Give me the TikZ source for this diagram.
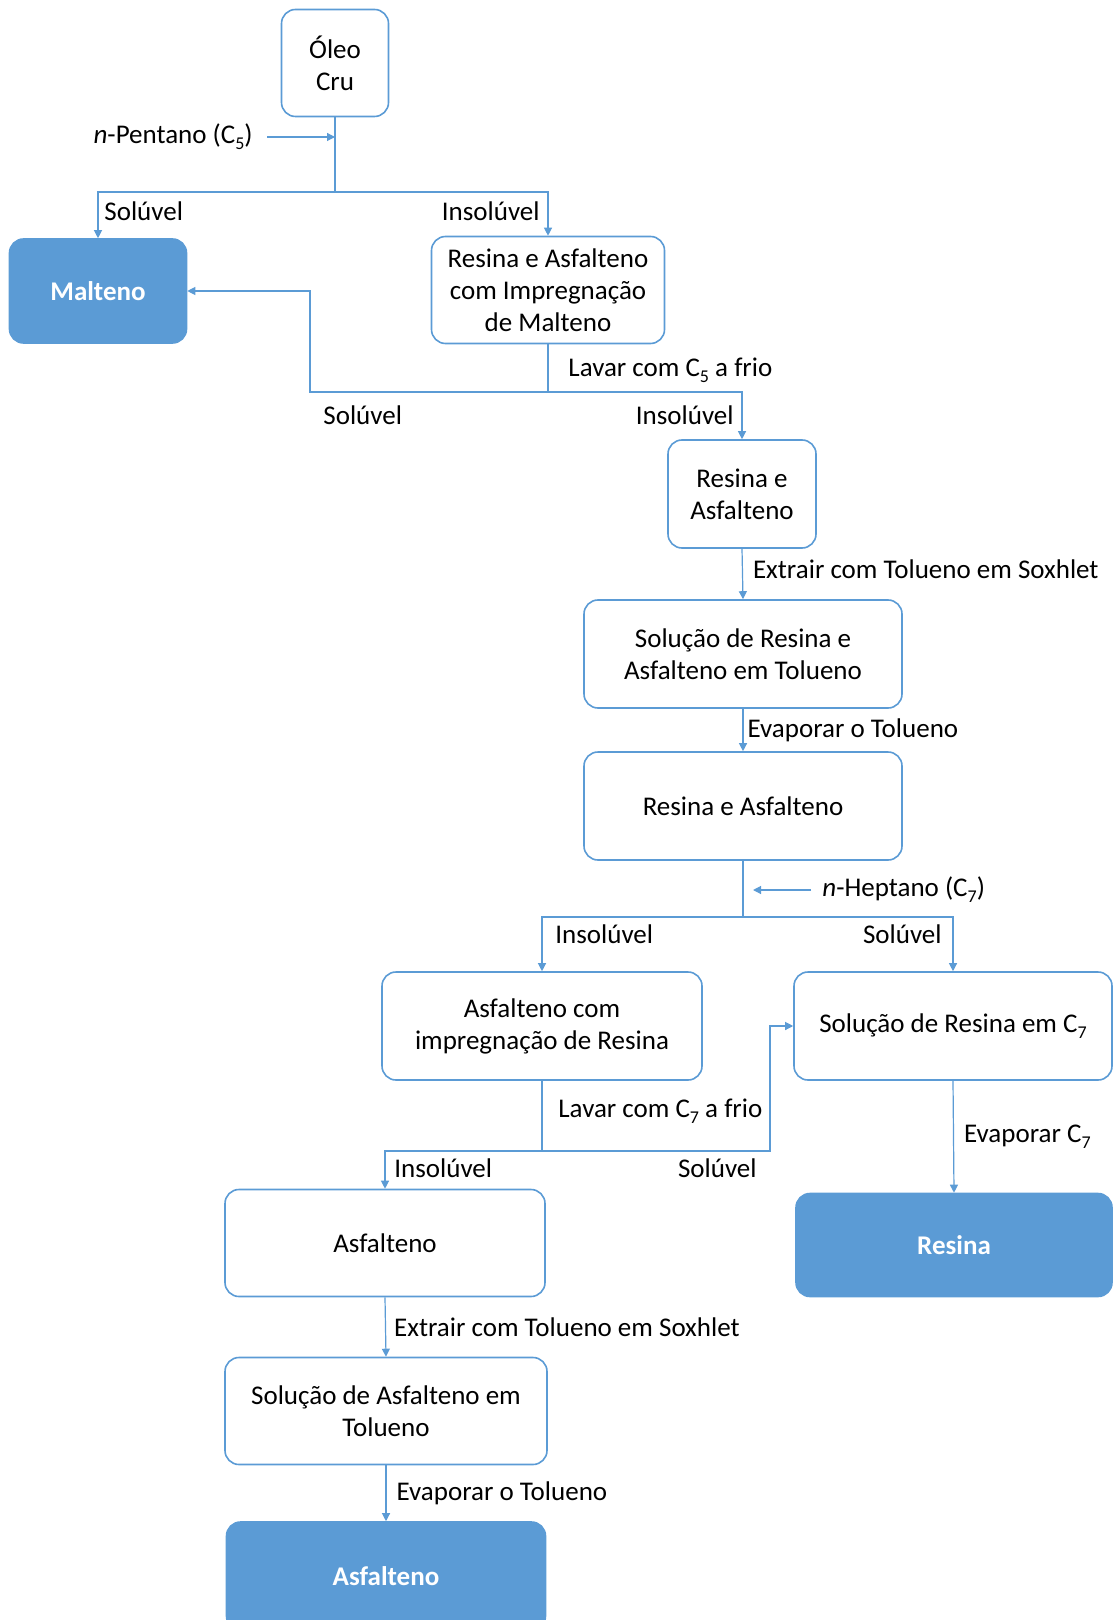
\documentclass[tikz,border=0pt]{standalone}
\usepackage{fontspec}
\setmainfont{Carlito}
\usetikzlibrary{arrows.meta,positioning}
\definecolor{boxblue}{HTML}{5B9BD5}
\newcommand{\subnum}[1]{\raisebox{-0.45ex}{\fontsize{9}{9}\selectfont #1}}
\tikzset{caixa/.style={draw=boxblue,line width=0.8pt,rounded corners=7pt,align=center,fill=white,inner sep=2pt}}
\tikzset{final/.style={draw=boxblue,fill=boxblue,line width=0.8pt,rounded corners=7pt,align=center,text=white,font=\fontsize{13.5}{16}\selectfont\bfseries}}
\tikzset{seta/.style={draw=boxblue,line width=0.6pt,-{Triangle[length=4pt,width=4pt]}}}
\tikzset{linha/.style={draw=boxblue,line width=0.6pt}}
\tikzset{rot/.style={inner sep=0pt}}

\begin{document}
\begin{tikzpicture}[x=0.5pt,y=-0.5pt,font=\fontsize{13.5}{16}\selectfont]
% \draw[help lines] (0,0) grid (1113,1620);
\useasboundingbox (0,0) rectangle (1113,1620);
\node (oleo) [caixa,minimum width=53.5pt,minimum height=53.5pt] at (335,63) {Óleo\\Cru};
\node (malt) [final,minimum width=88.5pt,minimum height=52pt] at (98,291) {Malteno};
\node (resimp) [caixa,minimum width=116.5pt,minimum height=53.5pt] at (548,290) {Resina e Asfalteno\\com Impregnação\\de Malteno};
\node (ra1) [caixa,minimum width=74pt,minimum height=54pt] at (742,494) {Resina e\\Asfalteno};
\node (solra) [caixa,minimum width=159pt,minimum height=54pt] at (743,654) {Solução de Resina e\\Asfalteno em Tolueno};
\node (ra2) [caixa,minimum width=159pt,minimum height=54pt] at (743,806) {Resina e Asfalteno};
\node (asfimp) [caixa,minimum width=160pt,minimum height=54pt] at (542,1026) {Asfalteno com\\impregnação de Resina};
\node (solres) [caixa,minimum width=159pt,minimum height=54pt] at (953,1026) {Solução de Resina em C\subnum{7}};
\node (resina) [final,minimum width=158pt,minimum height=51.5pt] at (954,1245) {Resina};
\node (asf1) [caixa,minimum width=160pt,minimum height=53.5pt] at (385,1243) {Asfalteno};
\node (solasf) [caixa,minimum width=161pt,minimum height=53.5pt] at (386,1411) {Solução de Asfalteno em\\Tolueno};
\node (asf2) [final,minimum width=159.5pt,minimum height=54pt] at (386,1576) {Asfalteno};
%
\coordinate (j1) at (335,192);
\coordinate (j2) at (548,392);
\coordinate (j2b) at (310,392);
\coordinate (j3) at (743,917);
\coordinate (j4) at (542,1151);
\coordinate (j4b) at (770,1151);
\coordinate (c5a) at (267,137);
\coordinate (c5b) at (335,137);
\coordinate (c7a) at (811,890);
\coordinate (c7b) at (753,890);
%
\node (pent) [rot,anchor=east] at (253,137) {\textit{n}-Pentano (C\subnum{5})};
\node (hept) [rot,anchor=west] at (822,890) {\textit{n}-Heptano (C\subnum{7})};
\draw[seta] (c5a) -- (c5b);
\draw[seta] (c7a) -- (c7b);
%
\draw[linha] (oleo.south) -- (j1);
\draw[seta] (j1) -| (malt.north);
\draw[seta] (j1) -| (resimp.north);
\node (s1) [rot,anchor=west] at (104,211) {Solúvel};
\node (i1) [rot,anchor=east] at (540,211) {Insolúvel};
%
\draw[linha] (resimp.south) -- (j2);
\draw[seta] (j2) -| (ra1.north);
\draw[seta] (j2) -- (j2b) |- (malt.east);
\node (l1) [rot,anchor=west] at (568,370) {Lavar com C\subnum{5} a frio};
\node (s2) [rot,anchor=west] at (323,415) {Solúvel};
\node (i2) [rot,anchor=east] at (734,415) {Insolúvel};
%
\draw[seta] (ra1.south) -- (solra.north) node[rot,pos=0.4,anchor=west,xshift=5pt] {Extrair com Tolueno em Soxhlet};
\draw[seta] (solra.south) -- (ra2.north) node[rot,pos=0.5,anchor=west,xshift=2pt] {Evaporar o Tolueno};
%
\draw[linha] (ra2.south) -- (j3);
\draw[seta] (j3) -| (asfimp.north);
\draw[seta] (j3) -| (solres.north);
\node (i3) [rot,anchor=west] at (555,934) {Insolúvel};
\node (s3) [rot,anchor=east] at (942,934) {Solúvel};
%
\draw[linha] (asfimp.south) -- (j4);
\draw[seta] (j4) -| (asf1.north);
\draw[seta] (j4) -- (j4b) |- (solres.west);
\node (l2) [rot,anchor=west] at (558,1111) {Lavar com C\subnum{7} a frio};
\node (i4) [rot,anchor=west] at (394,1168) {Insolúvel};
\node (s4) [rot,anchor=east] at (757,1168) {Solúvel};
%
\draw[seta] (solres.south) -- (resina.north) node[rot,pos=0.5,anchor=west,xshift=5pt] {Evaporar C\subnum{7}};
\draw[seta] (asf1.south) -- (solasf.north) node[rot,pos=0.5,anchor=west,xshift=4pt] {Extrair com Tolueno em Soxhlet};
\draw[seta] (solasf.south) -- (asf2.north) node[rot,pos=0.5,anchor=west,xshift=5pt] {Evaporar o Tolueno};
\end{tikzpicture}
\end{document}
